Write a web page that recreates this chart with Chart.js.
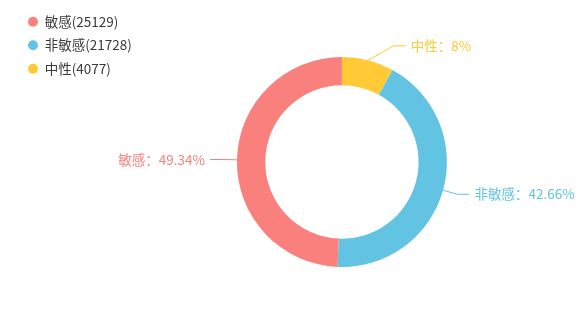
<!DOCTYPE html>
<html>
<head>
<meta charset="utf-8">
<script src="https://cdn.jsdelivr.net/npm/chart.js@4/dist/chart.umd.min.js"></script>
<style>
  html, body { margin: 0; padding: 0; background: #fff; }
  #wrap { width: 581px; height: 320px; }
</style>
</head>
<body>
<div id="wrap"><canvas id="pie" width="581" height="320"></canvas></div>
<script>
// 扇区顺序（从顶部顺时针）
const categories = ["中性", "非敏感", "敏感"];
const counts = [4077, 21728, 25129];
const colors = ["#ffca36", "#62c4e2", "#fa807d"];

const total = counts.reduce((a, b) => a + b, 0);
const pct = (v) => parseFloat(((v / total) * 100).toFixed(2));

const FONT = "'Noto Sans CJK SC', 'Noto Sans', sans-serif";

// 引导线 + 标签（echarts 风格）
const labelLinePlugin = {
  id: "labelLine",
  afterDatasetsDraw(chart, args, opts) {
    const { ctx } = chart;
    const meta = chart.getDatasetMeta(0);
    ctx.save();
    ctx.font = `13.5px ${FONT}`;
    ctx.textBaseline = "middle";
    ctx.lineWidth = 1;
    meta.data.forEach((arc, i) => {
      const { x, y, startAngle, endAngle, outerRadius } = arc.getProps(
        ["x", "y", "startAngle", "endAngle", "outerRadius"], true);
      const mid = (startAngle + endAngle) / 2;
      const cos = Math.cos(mid), sin = Math.sin(mid);
      const right = cos >= 0;
      const nudge = opts.nudge[i] || 0;
      const p0x = x + cos * outerRadius, p0y = y + sin * outerRadius;
      const p1x = x + cos * (outerRadius + opts.len1) + nudge;
      const p1y = y + sin * (outerRadius + opts.len1);
      const p2x = p1x + (right ? opts.len2 : -opts.len2);
      ctx.strokeStyle = colors[i];
      ctx.beginPath();
      ctx.moveTo(p0x, p0y);
      ctx.lineTo(p1x, p1y);
      ctx.lineTo(p2x, p1y);
      ctx.stroke();
      ctx.fillStyle = colors[i];
      ctx.textAlign = right ? "left" : "right";
      ctx.fillText(`${categories[i]}：${pct(counts[i])}%`,
        p2x + (right ? opts.gap : -opts.gap), p1y);
    });
    ctx.restore();
  },
};

new Chart(document.getElementById("pie"), {
  type: "doughnut",
  data: {
    labels: categories,
    datasets: [{
      data: counts,
      backgroundColor: colors,
      borderWidth: 0,
      radius: 105,
      cutout: "73%",
    }],
  },
  options: {
    responsive: false,
    animation: false,
    layout: { padding: { left: 18, top: 5, bottom: 1, right: 39 } },
    plugins: {
      tooltip: { enabled: false },
      legend: {
        position: "left",
        align: "start",
        labels: {
          usePointStyle: true,
          pointStyle: "circle",
          boxWidth: 10,
          boxHeight: 7,
          padding: 10,
          color: "#3a3a3a",
          font: { size: 13.5, family: FONT },
          sort: (a, b) => b.index - a.index,
          generateLabels(chart) {
            const items = Chart.overrides.doughnut.plugins.legend.labels.generateLabels(chart);
            items.forEach((it) => { it.text = `${categories[it.index]}(${counts[it.index]})`; });
            return items;
          },
        },
      },
      labelLine: { len1: 15, len2: 12, gap: 5, nudge: [22, 0, 0] },
    },
  },
  plugins: [labelLinePlugin],
});
</script>
</body>
</html>
